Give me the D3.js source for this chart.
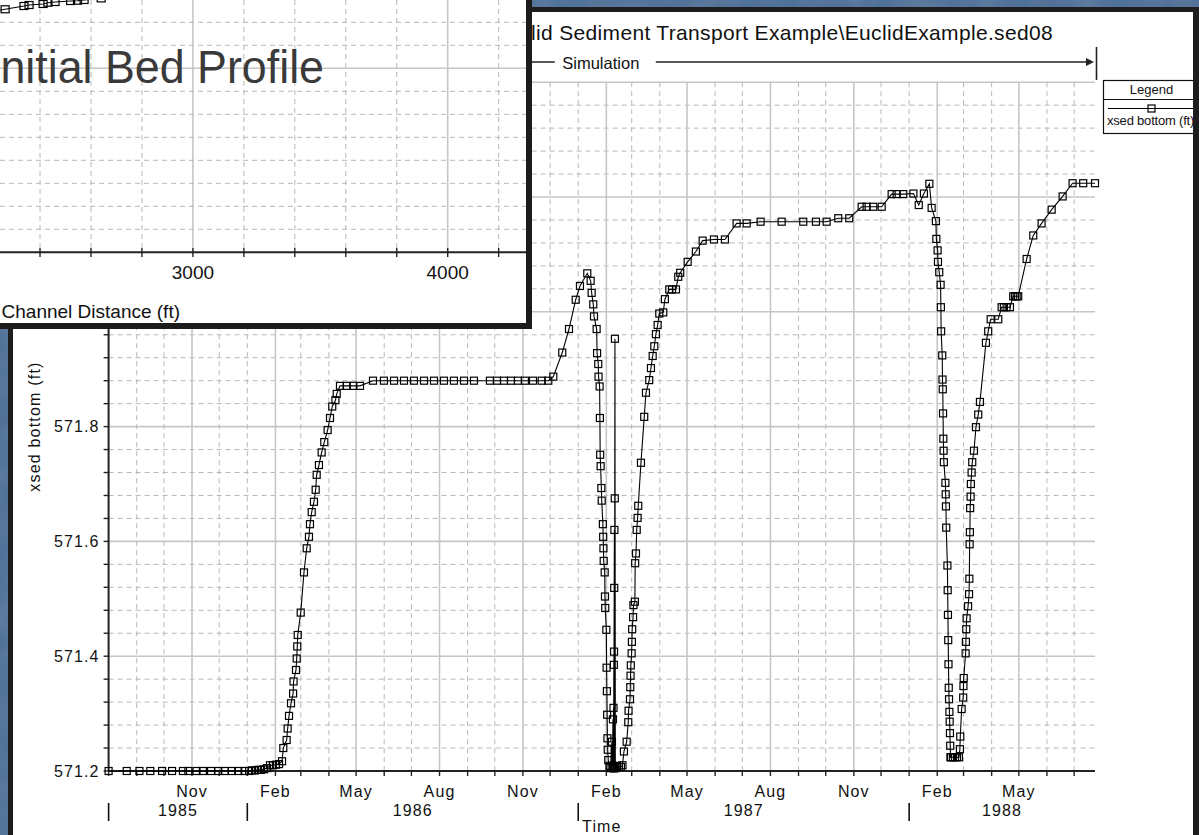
<!DOCTYPE html>
<html>
<head>
<meta charset="utf-8">
<title>xsed bottom (ft) vs Time</title>
<script src="https://cdn.jsdelivr.net/npm/d3@7"></script>
<style>
  html, body { margin: 0; padding: 0; background: #4a6d97; overflow: hidden; }
  svg { display: block; }
  text { font-family: "Liberation Sans", Arial, Helvetica, sans-serif; }
</style>
</head>
<body>
<svg id="chart" width="1199" height="835"></svg>
<script>
// ---------------- Bed elevation time series (EuclidExample.sed08) ----------------
const simulationStart = "1985-08-01";
const simulationEnd = "1988-07-24";

// days elapsed since the start of the simulation
const elapsedDays = [
  0, 20, 34, 46, 59, 70, 82, 88, 97, 104, 113, 121, 128, 136, 143, 150, 155,
  158.2, 161.5, 164.8, 168.1, 171.4, 174.7, 178, 181.3, 184.6, 188, 191.3,
  192.7, 196.4, 197.5, 199.0, 201.2, 203.5, 204.0, 206.7, 207.5, 208.1, 208.6,
  211.9, 215.5, 218.5, 221.0, 222.1, 224.0, 226.5, 228.4, 229.5, 232.0, 235.0,
  237.9, 241.6, 244.2, 246.7, 250.2, 251.6, 255.2, 262.6, 269.9, 277.3,
  291.6, 303.7, 314.8, 325.8, 336.8, 347.9, 358.9, 369.9, 380.9, 392, 403,
  420.6, 428.4, 436.1, 443.8, 451.5, 459.2, 468.1, 477.7, 485, 490.5,
  500.4, 507.8, 515.2, 519.9, 528.0, 531.7, 532.8, 534.6, 535.4, 538.3, 538.8,
  540.1, 540.4, 541.6, 541.9, 542.2, 542.7, 543.5, 543.9, 545.2, 545.5, 545.8,
  546.1, 547.2, 547.5, 547.8, 549.0, 549.3, 549.6, 549.9, 550.2, 550.5, 551.1,
  552.4,
  553.5, 555.2, 555.7, 556.3, 556.6, 556.9, 557.1, 557.3, 557.5, 557.7, 557.9,
  558.1, 558.3, 558.5, 558.9,
  560.7, 562.9, 565.1, 566.8, 568.4, 571.4, 573.2, 573.5, 575.1, 575.4, 575.7,
  576.0, 576.9, 577.2, 577.5, 578.5, 578.9, 580.5, 580.8, 581.7, 582.5, 583.5,
  584.2, 587.2, 590.8, 592.7, 596.3, 598.2, 600.1, 601.9, 603.7, 605.6, 607.4,
  611.8, 613.6, 618.4, 621.4, 625.8, 628.3, 630.5, 638.7, 647.8, 655.2, 667.7,
  679.8, 692.7, 703.8, 719.2, 742.4, 766.2, 780.2, 792.0, 804.8, 816.9, 830.6,
  836.1, 843.4, 852.7, 863.7, 869.2, 876.5, 887.7, 893.6, 899.3, 905.3,
  907.8, 912.5, 913.0, 914.4, 914.8, 916.2, 917.7, 918.0, 918.3, 919.5, 919.8,
  920.1, 920.4, 920.7, 921.0, 921.3, 923.0, 923.3, 923.6, 923.9, 925.2, 925.5,
  925.8, 926.1, 926.4, 926.7, 927.0, 927.4, 927.7, 928.0, 928.3, 928.6,
  929.1, 931.3, 933.5, 935.7, 937.9,
  939.0, 939.4, 940.9, 942.6, 942.9, 943.2, 945.3, 945.6, 946.0, 946.4, 948.0,
  949.1, 949.4, 949.7, 950.0, 950.3, 950.8, 951.1, 951.9, 952.6, 954.5, 956.7,
  959.2, 961.1, 967.7, 970.2, 972.9, 981.3, 985.0, 987.5, 990.5, 994.2, 997.8,
  999.7, 1001.6, 1003.3, 1012.6, 1019.9, 1029.1, 1040.2, 1052.3, 1063.3,
  1075.0, 1088.0
];

// xsed bottom (ft)
const bedElevation = [
  571.2, 571.2, 571.2, 571.2, 571.2, 571.2, 571.2, 571.2, 571.2, 571.2, 571.2,
  571.2, 571.2, 571.2, 571.2, 571.2, 571.2,
  571.201, 571.201, 571.202, 571.202, 571.203, 571.205, 571.210, 571.210,
  571.211, 571.212, 571.217,
  571.240, 571.254, 571.274, 571.296, 571.318, 571.335, 571.356, 571.376,
  571.396, 571.417, 571.437,
  571.476, 571.546, 571.588, 571.608, 571.630, 571.651, 571.669, 571.690,
  571.716, 571.733, 571.755,
  571.773, 571.794, 571.815, 571.835, 571.846, 571.857, 571.871, 571.871,
  571.871, 571.871,
  571.880, 571.880, 571.880, 571.880, 571.880, 571.880, 571.880, 571.880,
  571.880, 571.880, 571.880,
  571.880, 571.880, 571.880, 571.880, 571.880, 571.880, 571.880, 571.880,
  571.880, 571.887,
  571.929, 571.970, 572.021, 572.045, 572.067, 572.054, 572.033, 572.013,
  571.992, 571.970, 571.928,
  571.909, 571.887, 571.870, 571.815, 571.751, 571.731, 571.693, 571.671,
  571.630, 571.608, 571.588,
  571.566, 571.546, 571.504, 571.484, 571.446, 571.380, 571.339, 571.298,
  571.257, 571.237, 571.219,
  571.209,
  571.205, 571.251, 571.209, 571.290, 571.205, 571.310, 571.205, 571.385,
  571.408, 571.519, 571.620,
  571.205, 571.675, 571.953, 571.205,
  571.209, 571.207, 571.207, 571.210, 571.234, 571.251, 571.285, 571.305,
  571.325, 571.346, 571.366,
  571.384, 571.405, 571.425, 571.447, 571.468, 571.489, 571.495, 571.562,
  571.579, 571.620, 571.641,
  571.662, 571.737, 571.817, 571.859, 571.881, 571.902, 571.923, 571.940,
  571.961, 571.977, 571.997,
  571.999, 572.022, 572.039, 572.039, 572.039, 572.061, 572.068, 572.087,
  572.105, 572.124, 572.126,
  572.126, 572.154, 572.154, 572.157, 572.157, 572.157, 572.157, 572.157,
  572.163, 572.163, 572.183,
  572.183, 572.183, 572.183, 572.205, 572.205, 572.205, 572.206, 572.186,
  572.206, 572.223,
  572.181, 572.158, 572.127, 572.107, 572.087, 572.069, 572.047, 572.008,
  571.966, 571.924, 571.882,
  571.865, 571.823, 571.779, 571.758, 571.738, 571.702, 571.682, 571.661,
  571.624, 571.558, 571.515,
  571.472, 571.428, 571.386, 571.345, 571.325, 571.303, 571.286, 571.266,
  571.244, 571.224,
  571.224, 571.224, 571.224, 571.224, 571.224,
  571.238, 571.260, 571.308, 571.328, 571.348, 571.362, 571.405, 571.425,
  571.447, 571.466, 571.487,
  571.508, 571.535, 571.595, 571.616, 571.658, 571.678, 571.700, 571.720,
  571.738, 571.758, 571.799,
  571.821, 571.843, 571.946, 571.966, 571.987, 571.987, 572.008, 572.008,
  572.008, 572.008, 572.027,
  572.027, 572.027, 572.027, 572.092, 572.133, 572.154, 572.178, 572.201,
  572.224,
  572.224, 572.224
];

// elevation labels shown beside the axis (the upper ones sit behind the inset)
const elevationTicks = [571.2, 571.4, 571.6, 571.8];
const labelledMonths = ["Feb", "May", "Aug", "Nov"];
const yearLabels = ["1985", "1986", "1987", "1988"];

const plotTitle = "Euclid Sediment Transport Example\\EuclidExample.sed08";
const seriesName = "xsed bottom (ft)";

// ---------------- Initial bed profile (inset) ----------------
const profileStation = [2150, 2200, 2263, 2337, 2357, 2412, 2431, 2459, 2520, 2547, 2573, 2640];
const profileElevation = [571.19, 571.22, 571.283, 571.354, 571.376, 571.398, 571.426, 571.441,
                          571.463, 571.470, 571.485, 571.52];
const profileTicks = [3000, 4000];
const profileCaption = "Initial Bed Profile";

// ---------------------------------------------------------------
const W = 1199, H = 835;
const svg = d3.select("#chart");
const defs = svg.append("defs");

// mottled blue backdrop
const mottle = defs.append("filter").attr("id", "mottle")
  .attr("x", 0).attr("y", 0).attr("width", "100%").attr("height", "100%");
mottle.append("feTurbulence").attr("type", "fractalNoise")
  .attr("baseFrequency", "0.03").attr("numOctaves", 3).attr("seed", 7);
mottle.append("feColorMatrix").attr("type", "saturate").attr("values", 0);

svg.append("rect").attr("width", W).attr("height", H).attr("fill", "#4a6d97");
svg.append("rect").attr("width", W).attr("height", H)
  .attr("filter", "url(#mottle)").attr("opacity", 0.2);

// main plot window
svg.append("rect").attr("x", 8).attr("y", 7).attr("width", W - 8).attr("height", H)
  .attr("fill", "#1d1d1d");
svg.append("rect").attr("x", 13).attr("y", 12).attr("width", 1180).attr("height", H)
  .attr("fill", "#ffffff");

// scales
const parseDay = d3.utcParse("%Y-%m-%d");
const t0 = parseDay(simulationStart);
const t1 = parseDay(simulationEnd);
const DAY_MS = 864e5;

const x = d3.scaleUtc().domain([t0, t1]).range([108.6, 1095]);
const y = d3.scaleLinear().domain([571.2, 572.4]).range([771, 82.2]);

const series = elapsedDays.map((d, i) => ({
  date: new Date(t0.getTime() + d * DAY_MS),
  value: bedElevation[i]
}));

const [xl, xr] = x.range();
const [yb, yt] = y.range();

// grid
const grid = svg.append("g");
const minorElev = d3.range(1, 31).map(i => +(571.2 + i * 0.04).toFixed(2));
const isMajorElev = v => Math.abs(v * 5 - Math.round(v * 5)) < 1e-6;

grid.selectAll("line.h").data(minorElev).join("line")
  .attr("x1", xl).attr("x2", xr)
  .attr("y1", d => y(d)).attr("y2", d => y(d))
  .attr("stroke", d => isMajorElev(d) ? "#c6c6c6" : "#b8b8b8")
  .attr("stroke-width", d => isMajorElev(d) ? 1.6 : 1)
  .attr("stroke-dasharray", d => isMajorElev(d) ? null : "5,4");

const months = d3.utcMonth.range(d3.utcMonth.offset(t0, 1), t1);
const quarterMonths = [1, 4, 7, 10];
const isQuarter = d => quarterMonths.includes(d.getUTCMonth());

grid.selectAll("line.v").data(months).join("line")
  .attr("x1", d => x(d)).attr("x2", d => x(d))
  .attr("y1", yt).attr("y2", yb)
  .attr("stroke", d => isQuarter(d) ? "#c6c6c6" : "#b8b8b8")
  .attr("stroke-width", d => isQuarter(d) ? 1.6 : 1)
  .attr("stroke-dasharray", d => isQuarter(d) ? null : "5,4");

// axes
const axes = svg.append("g").attr("stroke", "#222");
axes.append("line").attr("x1", xl).attr("x2", xr).attr("y1", yb).attr("y2", yb).attr("stroke-width", 2);
axes.append("line").attr("x1", xl).attr("x2", xl).attr("y1", yt).attr("y2", yb).attr("stroke-width", 2);
axes.selectAll("line.xt").data([t0, ...months]).join("line")
  .attr("x1", d => x(d)).attr("x2", d => x(d))
  .attr("y1", yb).attr("y2", yb + 5).attr("stroke-width", 1.4);
axes.selectAll("line.yt").data([571.2, ...minorElev]).join("line")
  .attr("x1", xl - 5).attr("x2", xl)
  .attr("y1", d => y(d)).attr("y2", d => y(d)).attr("stroke-width", 1.4);

const labels = svg.append("g").attr("fill", "#111").attr("font-size", 16)
  .attr("letter-spacing", 1.1);

labels.selectAll("text.yl").data(elevationTicks).join("text")
  .attr("x", xl - 9).attr("y", d => y(d)).attr("dy", "0.36em")
  .attr("text-anchor", "end").text(d => d.toFixed(1));

const fmtMonth = d3.utcFormat("%b");
labels.selectAll("text.ml").data(months.filter(d => labelledMonths.includes(fmtMonth(d)))).join("text")
  .attr("x", d => x(d)).attr("y", 797).attr("text-anchor", "middle")
  .text(d => fmtMonth(d));

// year captions centred on the visible part of each year
const yearStarts = yearLabels.map(s => parseDay(s + "-01-01"));
labels.selectAll("text.yr").data(yearLabels).join("text")
  .attr("x", (d, i) => {
    const a = Math.max(x(yearStarts[i]), xl);
    const b = Math.min(x(d3.utcYear.offset(yearStarts[i], 1)), xr);
    return (a + b) / 2;
  })
  .attr("y", 816).attr("text-anchor", "middle").text(d => d);

const yearBreaks = [t0, ...yearStarts.filter(d => d > t0 && d < t1)];
svg.append("g").selectAll("line").data(yearBreaks).join("line")
  .attr("x1", d => x(d)).attr("x2", d => x(d))
  .attr("y1", 803).attr("y2", 821).attr("stroke", "#111").attr("stroke-width", 1.6);

labels.append("text").attr("x", (xl + xr) / 2).attr("y", 832)
  .attr("text-anchor", "middle").text("Time");

labels.append("text")
  .attr("transform", `translate(40,${(yt + yb) / 2}) rotate(-90)`)
  .attr("text-anchor", "middle").attr("letter-spacing", 1.2).text(seriesName);

// series
const line = d3.line().x(d => x(d.date)).y(d => y(d.value));
svg.append("path").datum(series).attr("d", line)
  .attr("fill", "none").attr("stroke", "#000").attr("stroke-width", 1.1);
svg.append("g").selectAll("rect").data(series).join("rect")
  .attr("x", d => x(d.date) - 3.5).attr("y", d => y(d.value) - 3.5)
  .attr("width", 7).attr("height", 7)
  .attr("fill", "none").attr("stroke", "#000").attr("stroke-width", 1.2);

// title
svg.append("text").attr("x", 1053).attr("y", 40).attr("text-anchor", "end")
  .attr("font-size", 21).attr("letter-spacing", 0.33).attr("fill", "#111").text(plotTitle);

// simulation span
const sim = svg.append("g");
sim.append("line").attr("x1", xl).attr("x2", xr - 4).attr("y1", 62).attr("y2", 62)
  .attr("stroke", "#222").attr("stroke-width", 1.5);
sim.append("path").attr("d", `M${xr - 9},58 L${xr - 1},62 L${xr - 9},66 Z`).attr("fill", "#222");
sim.append("line").attr("x1", xr + 1.5).attr("x2", xr + 1.5).attr("y1", 47).attr("y2", 80)
  .attr("stroke", "#222").attr("stroke-width", 1.6);
const simMid = (xl + xr) / 2;
sim.append("rect").attr("x", simMid - 47).attr("y", 52).attr("width", 101).attr("height", 20)
  .attr("fill", "#fff");
sim.append("text").attr("x", simMid - 1).attr("y", 69).attr("text-anchor", "middle")
  .attr("font-size", 16.5).attr("fill", "#111").text("Simulation");

// legend
const lg = svg.append("g");
lg.append("rect").attr("x", 1103.5).attr("y", 80.5).attr("width", 100).attr("height", 53)
  .attr("fill", "#fff").attr("stroke", "#111").attr("stroke-width", 1.2);
lg.append("line").attr("x1", 1103.5).attr("x2", 1199).attr("y1", 99.5).attr("y2", 99.5)
  .attr("stroke", "#111").attr("stroke-width", 1.2);
lg.append("text").attr("x", 1151.5).attr("y", 94).attr("text-anchor", "middle")
  .attr("font-size", 13).attr("fill", "#111").text("Legend");
lg.append("line").attr("x1", 1108).attr("x2", 1199).attr("y1", 108.5).attr("y2", 108.5)
  .attr("stroke", "#000").attr("stroke-width", 1.1);
lg.append("rect").attr("x", 1148).attr("y", 105).attr("width", 7).attr("height", 7)
  .attr("fill", "none").attr("stroke", "#000").attr("stroke-width", 1.2);
lg.append("text").attr("x", 1107).attr("y", 125).attr("font-size", 13)
  .attr("letter-spacing", -0.2).attr("fill", "#111").text(seriesName);

// right frame edge drawn over the legend
svg.append("rect").attr("x", 1193).attr("y", 7).attr("width", 6).attr("height", H)
  .attr("fill", "#1d1d1d");

// ---------------- inset: initial bed profile ----------------
const inset = svg.append("g");
inset.append("rect").attr("x", 0).attr("y", 0).attr("width", 532).attr("height", 329).attr("fill", "#1c1c1c");
inset.append("rect").attr("x", 0).attr("y", 0).attr("width", 526).attr("height", 323).attr("fill", "#fff");

const ix = d3.scaleLinear().domain([3000, 4000]).range([192.9, 447.7]);
const iy = d3.scaleLinear().domain([566, 570]).range([252.3, 68.3]);

defs.append("clipPath").attr("id", "insetClip").append("rect")
  .attr("x", 0).attr("y", 0).attr("width", 526).attr("height", 252.3);
const ig = inset.append("g").attr("clip-path", "url(#insetClip)");

const stations = d3.range(2200, 4601, 200);
const elevLines = d3.range(566.5, 571.6, 0.5);
ig.selectAll("line.v").data(stations).join("line")
  .attr("x1", d => ix(d)).attr("x2", d => ix(d)).attr("y1", 0).attr("y2", 252.3)
  .attr("stroke", d => d % 1000 === 0 ? "#c6c6c6" : "#b8b8b8")
  .attr("stroke-width", d => d % 1000 === 0 ? 1.6 : 1)
  .attr("stroke-dasharray", d => d % 1000 === 0 ? null : "5,4");
ig.selectAll("line.h").data(elevLines).join("line")
  .attr("x1", 0).attr("x2", 526).attr("y1", d => iy(d)).attr("y2", d => iy(d))
  .attr("stroke", d => d % 5 === 0 ? "#c6c6c6" : "#b8b8b8")
  .attr("stroke-width", d => d % 5 === 0 ? 1.6 : 1)
  .attr("stroke-dasharray", d => d % 5 === 0 ? null : "5,4");

const profile = profileStation.map((s, i) => ({ s, e: profileElevation[i] }));
ig.append("path").datum(profile)
  .attr("d", d3.line().x(d => ix(d.s)).y(d => iy(d.e)))
  .attr("fill", "none").attr("stroke", "#000").attr("stroke-width", 1.1);
ig.selectAll("rect.m").data(profile).join("rect")
  .attr("x", d => ix(d.s) - 4).attr("y", d => iy(d.e) - 3.5)
  .attr("width", 8).attr("height", 7)
  .attr("fill", "none").attr("stroke", "#000").attr("stroke-width", 1.2);

inset.append("line").attr("x1", 0).attr("x2", 526).attr("y1", 252.3).attr("y2", 252.3)
  .attr("stroke", "#222").attr("stroke-width", 2);
inset.selectAll("line.t").data(stations.filter(d => ix(d) < 526)).join("line")
  .attr("x1", d => ix(d)).attr("x2", d => ix(d)).attr("y1", 248).attr("y2", 257)
  .attr("stroke", "#222").attr("stroke-width", 1.4);
inset.selectAll("text.t").data(profileTicks).join("text")
  .attr("x", d => ix(d)).attr("y", 279).attr("text-anchor", "middle")
  .attr("font-size", 19).attr("fill", "#111").text(d => d);
inset.append("text").attr("x", 180).attr("y", 318).attr("text-anchor", "end")
  .attr("font-size", 19).attr("fill", "#111").text("Channel Distance (ft)");

inset.append("text").attr("x", -12).attr("y", 83)
  .attr("font-family", "'DejaVu Sans Condensed', 'DejaVu Sans', sans-serif")
  .attr("font-size", 46).attr("fill", "#3a3a3a")
  .attr("textLength", 336).attr("lengthAdjust", "spacingAndGlyphs")
  .text(profileCaption);
</script>
</body>
</html>
